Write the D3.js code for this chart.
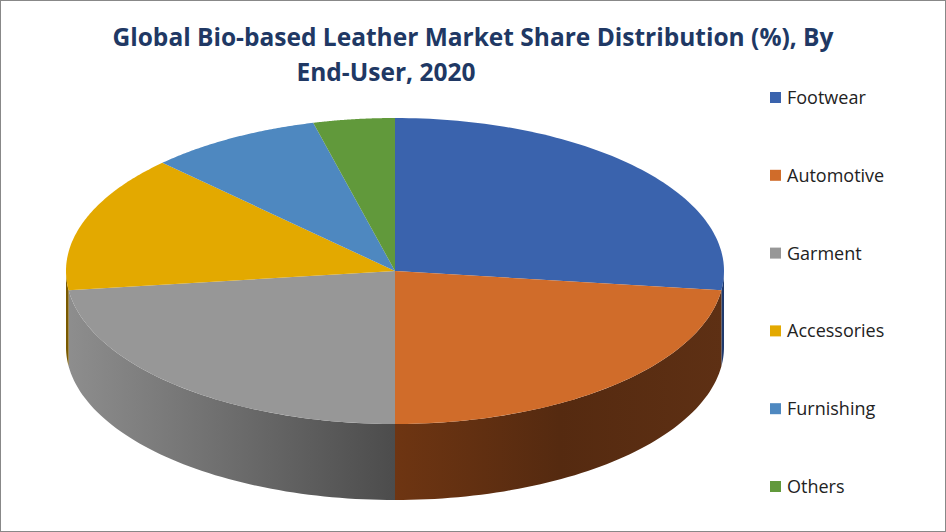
<!DOCTYPE html><html><head><script src="https://cdn.jsdelivr.net/npm/d3@7"></script>
<style>body{margin:0;background:#fff}</style></head><body><svg id="c" width="946" height="532"></svg>
<script>
const categories=["Footwear","Automotive","Garment","Accessories","Furnishing","Others"];
const shares=[27,23,23,14.5,8.5,4];
const colors=["#3a63ad","#d06c2a","#979797","#e3a900","#4e88c0","#61993b"];
const sideColors=["#1f3a6e","#5a2c12","#4a4a4a","#7a5a00","#2a4f78","#345a1f"];
const svg=d3.select("#c");
svg.append("rect").attr("x",0.5).attr("y",0.5).attr("width",945).attr("height",531).attr("fill","#fff").attr("stroke","#888");
const title=svg.append("text").attr("text-anchor","middle").attr("font-family","Open Sans, sans-serif").attr("font-weight","bold").attr("font-size",24.5).attr("fill","#203864");
title.append("tspan").attr("x",473).attr("y",46).text("Global Bio-based Leather Market Share Distribution (%), By");
title.append("tspan").attr("x",386).attr("y",81).text("End-User, 2020");
const cx=395,cy=271,rx=329,ry=153,depth=76;
const pie=d3.pie().sort(null).startAngle(0).endAngle(2*Math.PI)(shares);
const P=(a,dy=0)=>[cx+rx*Math.sin(a),cy-ry*Math.cos(a)+dy];
const defs=svg.append("defs");
const g=svg.append("g");
pie.forEach((s,i)=>{
  const a0=Math.max(s.startAngle,Math.PI/2),a1=Math.min(s.endAngle,3*Math.PI/2);
  if(a1<=a0)return;
  const n=60,top=d3.range(n+1).map(k=>P(a0+(a1-a0)*k/n)),bot=top.map(p=>[p[0],p[1]+depth]).reverse();
  const gid="gr"+i,gr=defs.append("linearGradient").attr("id",gid).attr("gradientUnits","userSpaceOnUse").attr("x1",cx-rx).attr("x2",cx+rx).attr("y1",0).attr("y2",0);
  if(i===2){gr.append("stop").attr("offset",0).attr("stop-color","#8e8e8e");gr.append("stop").attr("offset",0.5).attr("stop-color","#4c4c4c");}
  else if(i===1){gr.append("stop").attr("offset",0.5).attr("stop-color","#6e3512");gr.append("stop").attr("offset",0.75).attr("stop-color","#552a10");gr.append("stop").attr("offset",1).attr("stop-color","#5e3014");}
  else{gr.append("stop").attr("offset",0.5).attr("stop-color",sideColors[i]);gr.append("stop").attr("offset",1).attr("stop-color",sideColors[i]);}
  g.append("path").attr("d",d3.line()(top.concat(bot))+"Z").attr("fill",`url(#${gid})`);
});
pie.forEach((s,i)=>{
  const n=80,pts=[[cx,cy]].concat(d3.range(n+1).map(k=>P(s.startAngle+(s.endAngle-s.startAngle)*k/n)));
  g.append("path").attr("d",d3.line()(pts)+"Z").attr("fill",colors[i]);
});
const leg=svg.append("g");
categories.forEach((c,i)=>{
  const y=98+i*77.8;
  leg.append("rect").attr("x",770).attr("y",y-6).attr("width",11).attr("height",11).attr("fill",colors[i]);
  leg.append("text").attr("x",787).attr("y",y+6).attr("font-family","Open Sans, sans-serif").attr("font-size",18).attr("fill","#222").text(c);
});
</script></body></html>
